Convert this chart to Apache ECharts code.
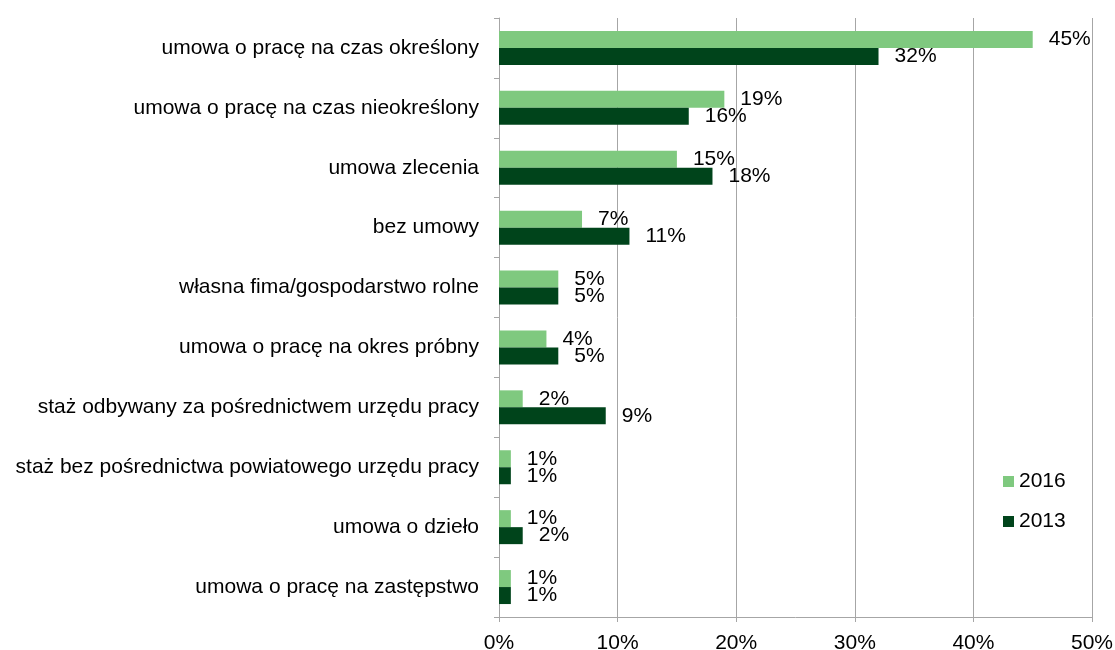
<!DOCTYPE html>
<html><head><meta charset="utf-8">
<script src="https://cdn.jsdelivr.net/npm/echarts@6/dist/echarts.min.js"></script>
<style>html,body{margin:0;padding:0;background:#fff}#c{width:1115px;height:650px}</style>
</head><body><div id="c"></div>
<script>
const categories = [
  "umowa o pracę na czas określony",
  "umowa o pracę na czas nieokreślony",
  "umowa zlecenia",
  "bez umowy",
  "własna fima/gospodarstwo rolne",
  "umowa o pracę na okres próbny",
  "staż odbywany za pośrednictwem urzędu pracy",
  "staż bez pośrednictwa powiatowego urzędu pracy",
  "umowa o dzieło",
  "umowa o pracę na zastępstwo"
];
const values2016 = [45, 19, 15, 7, 5, 4, 2, 1, 1, 1];
const values2013 = [32, 16, 18, 11, 5, 5, 9, 1, 2, 1];
const seriesNames = ["2016", "2013"];

const font = "Liberation Sans, Arial, sans-serif";
const chart = echarts.init(document.getElementById('c'), null, {renderer: 'canvas'});
const labelCfg = {show: true, position: 'right', distance: 16, formatter: '{c}%', color: '#000', fontSize: 21, fontFamily: font};
chart.setOption({
  animation: false,
  grid: {left: 499, right: 23, top: 18, bottom: 33, containLabel: false, outerBoundsMode: 'none'},
  legend: {
    orient: 'vertical', left: 1003, top: 471, padding: 0, itemWidth: 11, itemHeight: 11, itemGap: 19,
    textStyle: {fontSize: 21, fontFamily: font, color: '#000'},
    icon: 'rect', data: seriesNames
  },
  xAxis: {
    type: 'value', min: 0, max: 50, interval: 10,
    axisLabel: {formatter: '{value}%', fontSize: 21, fontFamily: font, color: '#000', margin: 16},
    axisLine: {show: true, lineStyle: {color: '#a6a6a6'}},
    axisTick: {show: true, length: 5, lineStyle: {color: '#a6a6a6'}},
    splitLine: {show: true, lineStyle: {color: '#a6a6a6'}}
  },
  yAxis: {
    type: 'category', data: categories, inverse: true,
    axisLabel: {fontSize: 21, fontFamily: font, color: '#000', margin: 20},
    axisLine: {show: true, lineStyle: {color: '#a6a6a6'}},
    axisTick: {show: true, length: 5, lineStyle: {color: '#a6a6a6'}}
  },
  series: [
    {name: seriesNames[0], type: 'bar', data: values2016, barWidth: 17, barGap: '0%',
     itemStyle: {color: '#7FC97F'}, label: labelCfg},
    {name: seriesNames[1], type: 'bar', data: values2013, barWidth: 17, barGap: '0%',
     itemStyle: {color: '#00441B'}, label: labelCfg}
  ]
});
</script></body></html>
